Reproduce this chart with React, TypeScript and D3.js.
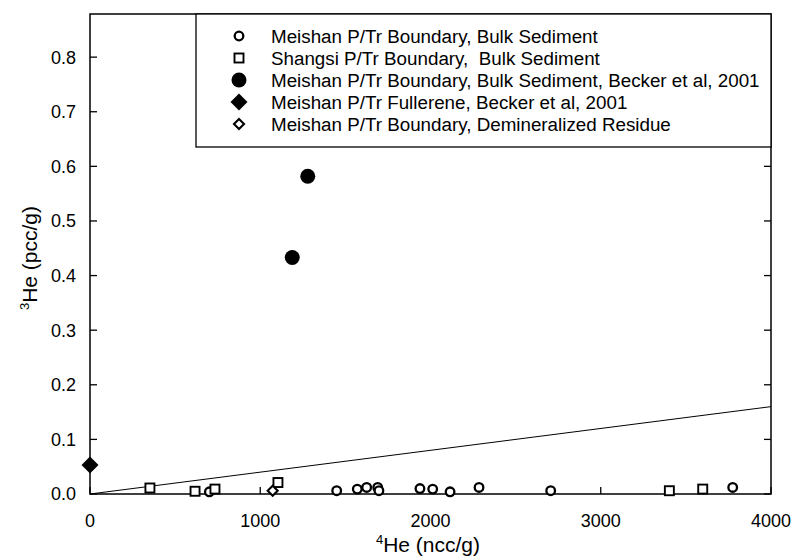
import { useEffect, useRef } from 'react';
import * as d3 from 'd3';

// Meishan P/Tr Boundary, Bulk Sediment (open circles)
const meishanBulkHe4 = [701, 1449, 1570, 1625, 1690, 1697, 1938, 2013, 2115, 2285, 2706, 3775];
const meishanBulkHe3 = [0.004, 0.006, 0.009, 0.012, 0.012, 0.006, 0.010, 0.009, 0.004, 0.012, 0.006, 0.012];

// Shangsi P/Tr Boundary, Bulk Sediment (open squares)
const shangsiHe4 = [352, 617, 734, 1104, 3403, 3599];
const shangsiHe3 = [0.011, 0.005, 0.009, 0.021, 0.006, 0.009];

// Becker et al 2001, bulk sediment (filled circles)
const beckerBulkHe4 = [1188, 1279];
const beckerBulkHe3 = [0.433, 0.582];

// Becker et al 2001, fullerene (filled diamond)
const fullereneHe4 = [0];
const fullereneHe3 = [0.053];

// Demineralized residue (open diamond)
const residueHe4 = [1073];
const residueHe3 = [0.006];

// reference line
const refLineHe4 = [0, 4000];
const refLineHe3 = [0, 0.16];

const xTicks = [0, 1000, 2000, 3000, 4000];
const yTicks = [0, 0.1, 0.2, 0.3, 0.4, 0.5, 0.6, 0.7, 0.8];

const legendLabels = [
  'Meishan P/Tr Boundary, Bulk Sediment',
  'Shangsi P/Tr Boundary,  Bulk Sediment',
  'Meishan P/Tr Boundary, Bulk Sediment, Becker et al, 2001',
  'Meishan P/Tr Fullerene, Becker et al, 2001',
  'Meishan P/Tr Boundary, Demineralized Residue',
];

const FONT = '"Liberation Sans", Arial, Helvetica, sans-serif';

type Marker = 'openCircle' | 'openSquare' | 'filledCircle' | 'filledDiamond' | 'openDiamond';

function drawMarker(g: d3.Selection<SVGGElement, unknown, null, undefined>, kind: Marker, cx: number, cy: number) {
  if (kind === 'openCircle') {
    g.append('circle').attr('cx', cx).attr('cy', cy).attr('r', 4.3)
      .attr('fill', 'white').attr('stroke', 'black').attr('stroke-width', 2.3);
  } else if (kind === 'openSquare') {
    g.append('rect').attr('x', cx - 4.5).attr('y', cy - 4.5).attr('width', 9).attr('height', 9)
      .attr('fill', 'white').attr('stroke', 'black').attr('stroke-width', 1.9);
  } else if (kind === 'filledCircle') {
    g.append('circle').attr('cx', cx).attr('cy', cy).attr('r', 7.5).attr('fill', 'black');
  } else if (kind === 'filledDiamond') {
    const s = 8.5;
    g.append('path').attr('d', `M${cx},${cy - s}L${cx + s},${cy}L${cx},${cy + s}L${cx - s},${cy}Z`)
      .attr('fill', 'black');
  } else {
    const s = 5;
    g.append('path').attr('d', `M${cx},${cy - s}L${cx + s},${cy}L${cx},${cy + s}L${cx - s},${cy}Z`)
      .attr('fill', 'white').attr('stroke', 'black').attr('stroke-width', 2.1);
  }
}

export default function App() {
  const ref = useRef<SVGSVGElement>(null);

  useEffect(() => {
    if (!ref.current) return;
    const svg = d3.select(ref.current);
    svg.selectAll('*').remove();

    const left = 90, right = 771, top = 14, bottom = 494;

    const x = d3.scaleLinear().domain([0, 4000]).range([left, right]);
    const y = d3.scaleLinear().domain([0, 0.879]).range([bottom, top]);

    const g = svg.append('g');

    // frame
    g.append('rect')
      .attr('x', left).attr('y', top)
      .attr('width', right - left).attr('height', bottom - top)
      .attr('fill', 'none').attr('stroke', 'black').attr('stroke-width', 1.5);

    // inward ticks
    const tickLen = 7;
    yTicks.forEach(t => {
      g.append('line').attr('x1', left).attr('x2', left + tickLen)
        .attr('y1', y(t)).attr('y2', y(t)).attr('stroke', 'black').attr('stroke-width', 1.3);
      g.append('line').attr('x1', right).attr('x2', right - tickLen)
        .attr('y1', y(t)).attr('y2', y(t)).attr('stroke', 'black').attr('stroke-width', 1.3);
      g.append('text').attr('x', left - 14).attr('y', y(t)).attr('dy', '0.36em')
        .attr('text-anchor', 'end').style('font-family', FONT).style('font-size', '18px')
        .text(d3.format('.1f')(t));
    });
    xTicks.forEach(t => {
      g.append('line').attr('x1', x(t)).attr('x2', x(t))
        .attr('y1', bottom).attr('y2', bottom - tickLen).attr('stroke', 'black').attr('stroke-width', 1.3);
      g.append('text').attr('x', x(t)).attr('y', bottom + 33)
        .attr('text-anchor', 'middle').style('font-family', FONT).style('font-size', '18px')
        .text(String(t));
    });

    // reference line
    g.append('path')
      .datum(refLineHe4.map((v, i) => [v, refLineHe3[i]] as [number, number]))
      .attr('fill', 'none').attr('stroke', 'black').attr('stroke-width', 1)
      .attr('d', d3.line<[number, number]>().x(d => x(d[0])).y(d => y(d[1])));

    // data
    const series: [number[], number[], Marker][] = [
      [meishanBulkHe4, meishanBulkHe3, 'openCircle'],
      [shangsiHe4, shangsiHe3, 'openSquare'],
      [beckerBulkHe4, beckerBulkHe3, 'filledCircle'],
      [fullereneHe4, fullereneHe3, 'filledDiamond'],
      [residueHe4, residueHe3, 'openDiamond'],
    ];
    series.forEach(([xs, ys, kind]) => {
      xs.forEach((v, i) => drawMarker(g, kind, x(v), y(ys[i])));
    });

    // legend
    const legX = 196, legY = top, legW = right - 196, legH = 133;
    g.append('rect').attr('x', legX).attr('y', legY).attr('width', legW).attr('height', legH)
      .attr('fill', 'white').attr('stroke', 'black').attr('stroke-width', 1.3);
    const kinds: Marker[] = ['openCircle', 'openSquare', 'filledCircle', 'filledDiamond', 'openDiamond'];
    legendLabels.forEach((label, i) => {
      const ly = 36 + i * 22;
      drawMarker(g, kinds[i], 239, ly);
      g.append('text').attr('x', 271).attr('y', ly).attr('dy', '0.36em')
        .style('font-family', FONT).style('font-size', '18.8px').style('white-space', 'pre')
        .text(label);
    });

    // axis titles
    const xt = g.append('text').attr('x', 428).attr('y', 552)
      .attr('text-anchor', 'middle').style('font-family', FONT).style('font-size', '21px');
    xt.append('tspan').attr('font-size', '13px').attr('dy', '-8').text('4');
    xt.append('tspan').attr('dy', '8').text('He (ncc/g)');

    const yt = g.append('text').attr('transform', `translate(37,258) rotate(-90)`)
      .attr('text-anchor', 'middle').style('font-family', FONT).style('font-size', '21px');
    yt.append('tspan').attr('font-size', '13px').attr('dy', '-8').text('3');
    yt.append('tspan').attr('dy', '8').text('He (pcc/g)');
  }, []);

  return (
    <div style={{ position: 'absolute', left: 0, top: 0 }}>
      <svg ref={ref} width={791} height={556} style={{ display: 'block', background: 'white' }} />
    </div>
  );
}
